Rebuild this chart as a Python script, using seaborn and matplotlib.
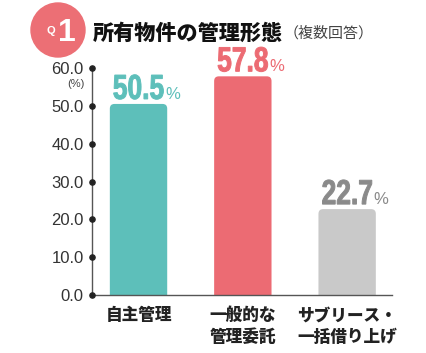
import seaborn as sns
import matplotlib.pyplot as plt
import pandas as pd
from matplotlib.patches import Ellipse, PathPatch, FancyBboxPatch
from matplotlib.textpath import TextPath
from matplotlib.font_manager import FontProperties
from matplotlib.transforms import Affine2D, IdentityTransform

categories = ['自主管理', '一般的な\n管理委託', 'サブリース・\n一括借り上げ']
values = [50.5, 57.8, 22.7]
bar_colors = ['#5dbfba', '#ec6b73', '#c9c9c9']
label_colors = ['#5dbfba', '#ec6b73', '#8a8a8a']
yticks = [0, 10, 20, 30, 40, 50, 60]

sns.set_style('white')
plt.rcParams['font.family'] = ['Noto Sans CJK JP', 'DejaVu Sans']
latin = ['Liberation Sans', 'DejaVu Sans']

df = pd.DataFrame({'cat': categories, 'val': values})

fig = plt.figure(figsize=(4.27, 3.53), dpi=100)
ax = fig.add_axes([92 / 427, 58 / 353, 300 / 427, 227 / 353])
sns.barplot(data=df, x='cat', y='val', hue='cat', palette=bar_colors,
            legend=False, width=0.55, saturation=1, ax=ax)

ax.set_xlim(-0.446, 2.43)
ax.set_ylim(0, 60)
ax.set_xlabel('')
ax.set_ylabel('')
sns.despine(ax=ax)
for side in ['left', 'bottom']:
    ax.spines[side].set_color('#555555')
    ax.spines[side].set_linewidth(1.0)

# 棒の上の角を丸める
asp = (300 / 2.876) / (227 / 60)
for p in list(ax.patches):
    x0, w, h = p.get_x(), p.get_width(), p.get_height()
    fb = FancyBboxPatch((x0, -3), w, h + 3,
                        boxstyle='round,pad=0,rounding_size=0.045',
                        mutation_aspect=asp, facecolor=p.get_facecolor(),
                        edgecolor='none')
    p.remove()
    ax.add_patch(fb)

# y軸
ax.set_yticks(yticks)
ax.set_yticklabels([f'{t:.1f}' for t in yticks])
ax.tick_params(axis='y', length=0, pad=6, labelsize=12, labelcolor='#333333')
for lab in ax.get_yticklabels():
    lab.set_fontfamily(latin)
ax.scatter([0] * len(yticks), yticks, transform=ax.get_yaxis_transform(),
           s=14, color='#222222', clip_on=False, zorder=5)

# x軸ラベル
ax.tick_params(axis='x', length=0, pad=8)
for lab in ax.get_xticklabels():
    lab.set_fontsize(12)
    lab.set_fontweight('heavy')
    lab.set_color('#222222')
    lab.set_linespacing(1.3)

# 値ラベル（縦長の数字）
k = fig.dpi / 72
num_prop = FontProperties(family=latin, weight='bold')
for i, v in enumerate(values):
    tp = TextPath((0, 0), f'{v:.1f}', size=25, prop=num_prop)
    bb = tp.get_extents()
    px, py = ax.transData.transform((i, v))
    py += 5
    sx = 0.76
    tr = (Affine2D().translate(-(bb.x0 + bb.width / 2), 0)
          .scale(sx * k, k).translate(px, py))
    fig.add_artist(PathPatch(tp, transform=tr, facecolor=label_colors[i],
                             edgecolor=label_colors[i], linewidth=0.7))
    right = px + sx * k * bb.width / 2
    fig.text(right + 1.5, py, '%', transform=IdentityTransform(),
             ha='left', va='baseline', fontsize=12,
             color=label_colors[i], family=latin)

# タイトル
fig.add_artist(Ellipse((58 / 427, 1 - 30 / 353), 54 / 427, 54 / 353,
                       transform=fig.transFigure, color='#ec6f75'))
fig.text(51 / 427, 1 - 31 / 353, 'Q', color='white', fontsize=8,
         fontweight='bold', ha='center', va='center', family=latin)
fig.text(67 / 427, 1 - 33 / 353, '1', color='white', fontsize=23,
         fontweight='bold', ha='center', va='center', family=latin)
fig.text(93 / 427, 1 - 33 / 353, '所有物件の管理形態', fontsize=15.2,
         fontweight='heavy', ha='left', va='center', color='#111111')
fig.text(284 / 427, 1 - 33 / 353, '（複数回答）', fontsize=10.8,
         ha='left', va='center', color='#444444')
fig.text(76 / 427, 1 - 84 / 353, '(%)', fontsize=8, ha='center',
         va='center', color='#444444', family=latin)

fig.savefig('out.png', dpi=100)
